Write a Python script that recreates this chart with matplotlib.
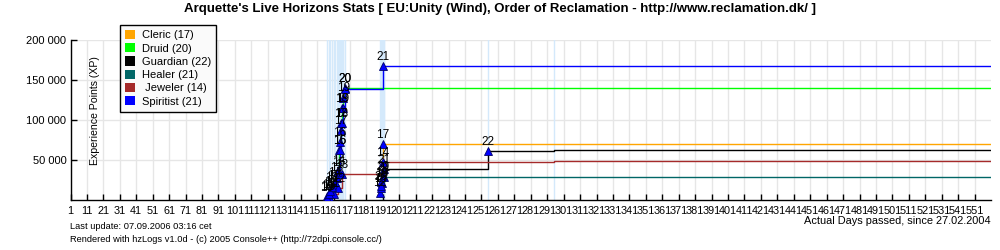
import matplotlib
matplotlib.use("Agg")
import matplotlib.pyplot as plt
from matplotlib.patches import Patch
import numpy as np

plt.rcParams["font.family"] = ["Liberation Sans", "DejaVu Sans"]

# classes, legend text and colours
names = ["Cleric (17)", "Druid (20)", "Guardian (22)", "Healer (21)", " Jeweler (14)", "Spiritist (21)"]
colors = ["#ffa500", "#00ff00", "#000000", "#006666", "#a52a2a", "#0000ff"]

# day, xp, level for each class
cleric_days = [189, 190, 190.5, 191]
cleric_xp = [9000, 15000, 21000, 69600]
cleric_lvl = [12, 15, 16, 17]

druid_days = [157, 159, 161, 163, 164, 164.5, 165, 165.5, 166, 167, 168]
druid_xp = [5000, 10000, 18000, 28000, 37000, 62000, 72000, 96000, 115000, 128000, 140000]
druid_lvl = [10, 11, 12, 13, 14, 15, 16, 17, 18, 19, 20]

guardian_days = [190, 191, 192, 255, 295]
guardian_xp = [22000, 30000, 38300, 61000, 62500]
guardian_lvl = [19, 20, 21, 22, 22]

healer_days = [190, 191.5]
healer_xp = [17000, 28300]
healer_lvl = [20, 21]

jeweler_days = [158, 161, 164, 166, 191, 295]
jeweler_xp = [4000, 8000, 15000, 32500, 47000, 48300]
jeweler_lvl = [10, 11, 12, 13, 14, 14]

spirit_days = [157, 158, 159, 160, 162, 164, 165, 165.5, 166, 166.5, 168, 191]
spirit_xp = [3000, 7000, 11000, 16000, 22000, 35000, 62000, 87000, 96000, 115000, 139000, 167000]
spirit_lvl = [10, 11, 12, 13, 14, 15, 16, 17, 18, 19, 20, 21]

series = [
    (cleric_days, cleric_xp, cleric_lvl),
    (druid_days, druid_xp, druid_lvl),
    (guardian_days, guardian_xp, guardian_lvl),
    (healer_days, healer_xp, healer_lvl),
    (jeweler_days, jeweler_xp, jeweler_lvl),
    (spirit_days, spirit_xp, spirit_lvl),
]

first_day = 1
last_day = 561
x_ticks = list(range(1, 552, 10))
y_ticks = [50000, 100000, 150000, 200000]
y_labels = ["50 000", "100 000", "150 000", "200 000"]

fig = plt.figure(figsize=(10, 2.5), dpi=100)
ax = fig.add_axes([0.0705, 0.2, 0.9205, 0.64])

# grid
for t in x_ticks:
    ax.axvline(t, color="#e6e6e6", lw=1, zorder=0)
for t in y_ticks:
    ax.axhline(t, color="#e6e6e6", lw=1, zorder=0)

# light blue lines on every day with an event
event_days = sorted(set(d for s in series for d in s[0]))
for d in event_days:
    ax.axvline(d, color="#d4e9fb", lw=1, zorder=1)

# step lines, carried on to the end of the axis
for (days, xp, lvl), c in zip(series, colors):
    ax.step(days + [last_day], xp + [xp[-1]], where="post", color=c, lw=1, zorder=3)

# markers + level labels where the level changes
for days, xp, lvl in series:
    prev = None
    for d, v, l in zip(days, xp, lvl):
        if l != prev:
            ax.plot(d, v, marker="^", ms=5.5, color="#0000ff", mec="#000066", mew=0.6, zorder=4)
            ax.annotate(str(l), (d, v), xytext=(0, 2.5), textcoords="offset points",
                        ha="center", va="bottom", fontsize=8.5, zorder=5)
        prev = l

ax.set_xlim(first_day, last_day)
ax.set_ylim(0, 200000)
ax.set_xticks(x_ticks)
ax.set_xticklabels([str(t) for t in x_ticks], fontsize=7.8)
ax.set_yticks(y_ticks)
ax.set_yticklabels(y_labels, fontsize=8)
ax.tick_params(direction="in", length=4, width=1, pad=3)
ax.tick_params(axis="x", pad=4)
for s in ["top", "right"]:
    ax.spines[s].set_visible(False)
for s in ["left", "bottom"]:
    ax.spines[s].set_linewidth(1)

ax.text(0.027, 0.56, "Experience Points (XP)", transform=ax.transAxes, rotation=90,
        ha="center", va="center", fontsize=7.6)

fig.text(0.5, 0.963, "Arquette's Live Horizons Stats [ EU:Unity (Wind), Order of Reclamation - http://www.reclamation.dk/ ]",
         ha="center", va="center", fontsize=9.5, fontweight="bold")
fig.text(0.991, 0.118, "Actual Days passed, since 27.02.2004", ha="right", va="center", fontsize=7.9)
fig.text(0.0705, 0.095, "Last update: 07.09.2006 03:16 cet", ha="left", va="center", fontsize=6.7)
fig.text(0.0705, 0.04, "Rendered with hzLogs v1.0d - (c) 2005 Console++ (http://72dpi.console.cc/)",
         ha="left", va="center", fontsize=6.7)

handles = [Patch(facecolor=c, edgecolor="none") for c in colors]
leg = fig.legend(handles, names, loc="upper left", bbox_to_anchor=(0.12, 0.9), fontsize=8,
                 frameon=True, fancybox=False, framealpha=1, edgecolor="black",
                 handlelength=0.9, handleheight=0.9, handletextpad=0.6, labelspacing=0.25,
                 borderpad=0.45, borderaxespad=0)
leg.get_frame().set_facecolor("#fafafa")
leg.get_frame().set_linewidth(1)

fig.savefig("out.png", dpi=100)
